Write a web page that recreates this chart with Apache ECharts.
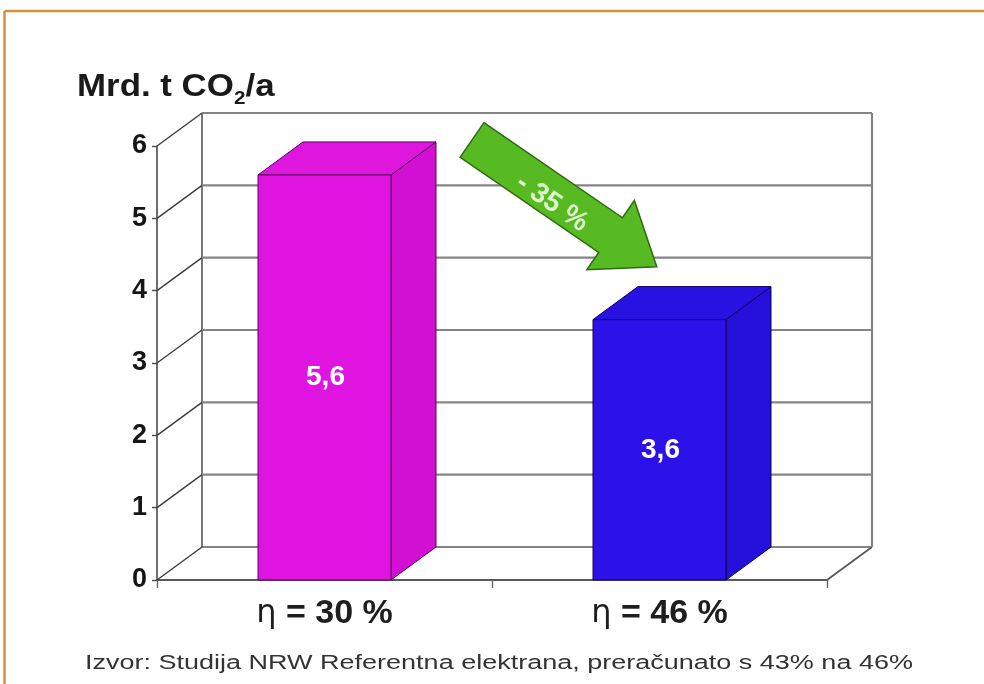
<!DOCTYPE html>
<html>
<head>
<meta charset="utf-8">
<script src="https://cdn.jsdelivr.net/npm/echarts@6/dist/echarts.min.js"></script>
<style>
html,body{margin:0;padding:0;background:#ffffff;}
#c{width:984px;height:684px;}
</style>
</head>
<body>
<div id="c"></div>
<script>
// ---- data ----
const categories = ['η = 30 %', 'η = 46 %'];
const values = [5.6, 3.6];
const valueLabels = ['5,6', '3,6'];
const yTicks = [0, 1, 2, 3, 4, 5, 6];
const changeLabel = '- 35 %';
const sourceText = 'Izvor: Studija NRW Referentna elektrana, preračunato s 43% na 46%';

// ---- style ----
const FONT = '"Liberation Sans", Arial, Helvetica, sans-serif';
const DX = 45, DY = -33;
const barStyles = [
  { front: '#E014E0', side: '#D210D2', top: '#DE16DE', stroke: '#5C005C' },
  { front: '#2A12E8', side: '#2410D8', top: '#2812E2', stroke: '#12005C' }
];

const chart = echarts.init(document.getElementById('c'));

function renderFrame(params, api) {
  const cs = params.coordSys;
  const v = api.value(1);
  const y = api.coord([0, v])[1];
  const x0 = cs.x, x1 = cs.x + cs.width;
  const children = [
    { type: 'line', shape: { x1: x0 + DX, y1: y + DY, x2: x1 + DX, y2: y + DY },
      style: { stroke: '#858585', lineWidth: 2.2 } },
    { type: 'line', shape: { x1: x0, y1: y, x2: x0 + DX, y2: y + DY },
      style: { stroke: '#3c3c3c', lineWidth: 1.4 } }
  ];
  if (v === yTicks[0]) {
    const yTop = api.coord([0, yTicks[yTicks.length - 1]])[1];
    children.push(
      { type: 'line', shape: { x1: x1, y1: y, x2: x1 + DX, y2: y + DY },
        style: { stroke: '#555555', lineWidth: 1.6 } },
      { type: 'line', shape: { x1: x0 + DX, y1: y + DY, x2: x0 + DX, y2: yTop + DY },
        style: { stroke: '#555555', lineWidth: 1.6 } },
      { type: 'line', shape: { x1: x1 + DX, y1: y + DY, x2: x1 + DX, y2: yTop + DY },
        style: { stroke: '#858585', lineWidth: 2.2 } }
    );
  }
  return { type: 'group', children: children };
}

function renderBar(params, api) {
  const i = api.value(0), v = api.value(1);
  const top = api.coord([i, v]);
  const bot = api.coord([i, 0]);
  const bw = api.size([1, 0])[0] * 0.397;
  const x = top[0] - bw / 2, yT = top[1], yB = bot[1];
  const s = barStyles[i];
  return {
    type: 'group',
    children: [
      { type: 'polygon',
        shape: { points: [[x + bw, yT], [x + bw + DX, yT + DY], [x + bw + DX, yB + DY], [x + bw, yB]] },
        style: { fill: s.side, stroke: s.stroke, lineWidth: 1 } },
      { type: 'polygon',
        shape: { points: [[x, yT], [x + DX, yT + DY], [x + bw + DX, yT + DY], [x + bw, yT]] },
        style: { fill: s.top, stroke: s.stroke, lineWidth: 1 } },
      { type: 'rect', shape: { x: x, y: yT, width: bw, height: yB - yT },
        style: { fill: s.front, stroke: s.stroke, lineWidth: 1 } },
      { type: 'text', x: top[0] + 1, y: (yT + yB) / 2,
        style: { text: valueLabels[i], fill: '#ffffff', font: 'bold 28px ' + FONT,
                 align: 'center', verticalAlign: 'middle' } }
    ]
  };
}

// arrow geometry (annotation)
const aC = [472, 140], aU = [0.825, 0.566], aN = [-0.566, 0.825];
function ap(t, n) { return [aC[0] + aU[0] * t + aN[0] * n, aC[1] + aU[1] * t + aN[1] * n]; }
const arrowPts = [ap(0, -21), ap(168, -21), ap(168, -42), ap(224, 0), ap(168, 42), ap(168, 21), ap(0, 21)];

const option = {
  animation: false,
  backgroundColor: '#ffffff',
  grid: { left: 157, top: 146, width: 670, height: 434 },
  xAxis: {
    type: 'category',
    data: categories,
    axisLine: { show: true, lineStyle: { color: '#5a5a5a', width: 1.8 } },
    axisTick: { show: true, length: 8, lineStyle: { color: '#666666', width: 1.4 } },
    axisLabel: {
      margin: 17,
      formatter: function (v) { return '{e|' + v.slice(0, 1) + '}{b|' + v.slice(1) + '}'; },
      rich: {
        e: { fontFamily: '"DejaVu Sans", ' + FONT, fontWeight: 'normal', fontSize: 32, color: '#1e1e1e' },
        b: { fontFamily: FONT, fontWeight: 'bold', fontSize: 34, color: '#1e1e1e' }
      }
    },
    splitLine: { show: false }
  },
  yAxis: {
    type: 'value',
    min: 0, max: 6, interval: 1,
    axisLine: { show: true, lineStyle: { color: '#4a4a4a', width: 1.6 } },
    axisTick: { show: true, length: 5, lineStyle: { color: '#4a4a4a', width: 1.4 } },
    axisLabel: { fontFamily: FONT, fontWeight: 'bold', fontSize: 27, color: '#161616', margin: 10 },
    splitLine: { show: false }
  },
  series: [
    { type: 'custom', name: 'frame', silent: true, z: 1,
      data: yTicks.map(v => [0, v]), encode: { x: 0, y: 1 }, renderItem: renderFrame },
    { type: 'custom', name: 'CO2', z: 3,
      data: values.map((v, i) => [i, v]), encode: { x: 0, y: 1 }, renderItem: renderBar }
  ],
  graphic: [
    { type: 'line', z: 100, shape: { x1: 4.5, y1: 11, x2: 984, y2: 11 },
      style: { stroke: '#DC8C32', lineWidth: 2.5 } },
    { type: 'line', z: 100, shape: { x1: 4.5, y1: 11, x2: 4.5, y2: 684 },
      style: { stroke: '#DC8C32', lineWidth: 2.5 } },
    { type: 'text', z: 100, x: 77, y: 66, scaleX: 1.09,
      style: {
        text: '{a|Mrd. t CO}{s|2}{a|/a}',
        fill: '#1a1a1a',
        verticalAlign: 'top',
        rich: {
          a: { fontFamily: FONT, fontWeight: 'bold', fontSize: 32, lineHeight: 42, fill: '#1a1a1a' },
          s: { fontFamily: FONT, fontWeight: 'bold', fontSize: 19, lineHeight: 18, verticalAlign: 'bottom', fill: '#1a1a1a' }
        }
      } },
    { type: 'polygon', z: 100, shape: { points: arrowPts },
      style: { fill: '#58BA22', stroke: '#2E6A12', lineWidth: 1.5 } },
    { type: 'text', z: 101, x: 552, y: 203, rotation: -0.601,
      style: { text: changeLabel, font: 'bold 28px ' + FONT, fill: '#DDF7CC',
               align: 'center', verticalAlign: 'middle' } },
    { type: 'text', z: 100, x: 85, y: 663, scaleX: 1.35,
      style: { text: sourceText, font: '20px ' + FONT, fill: '#333333',
               align: 'left', verticalAlign: 'middle' } }
  ]
};
chart.setOption(option);
</script>
</body>
</html>
